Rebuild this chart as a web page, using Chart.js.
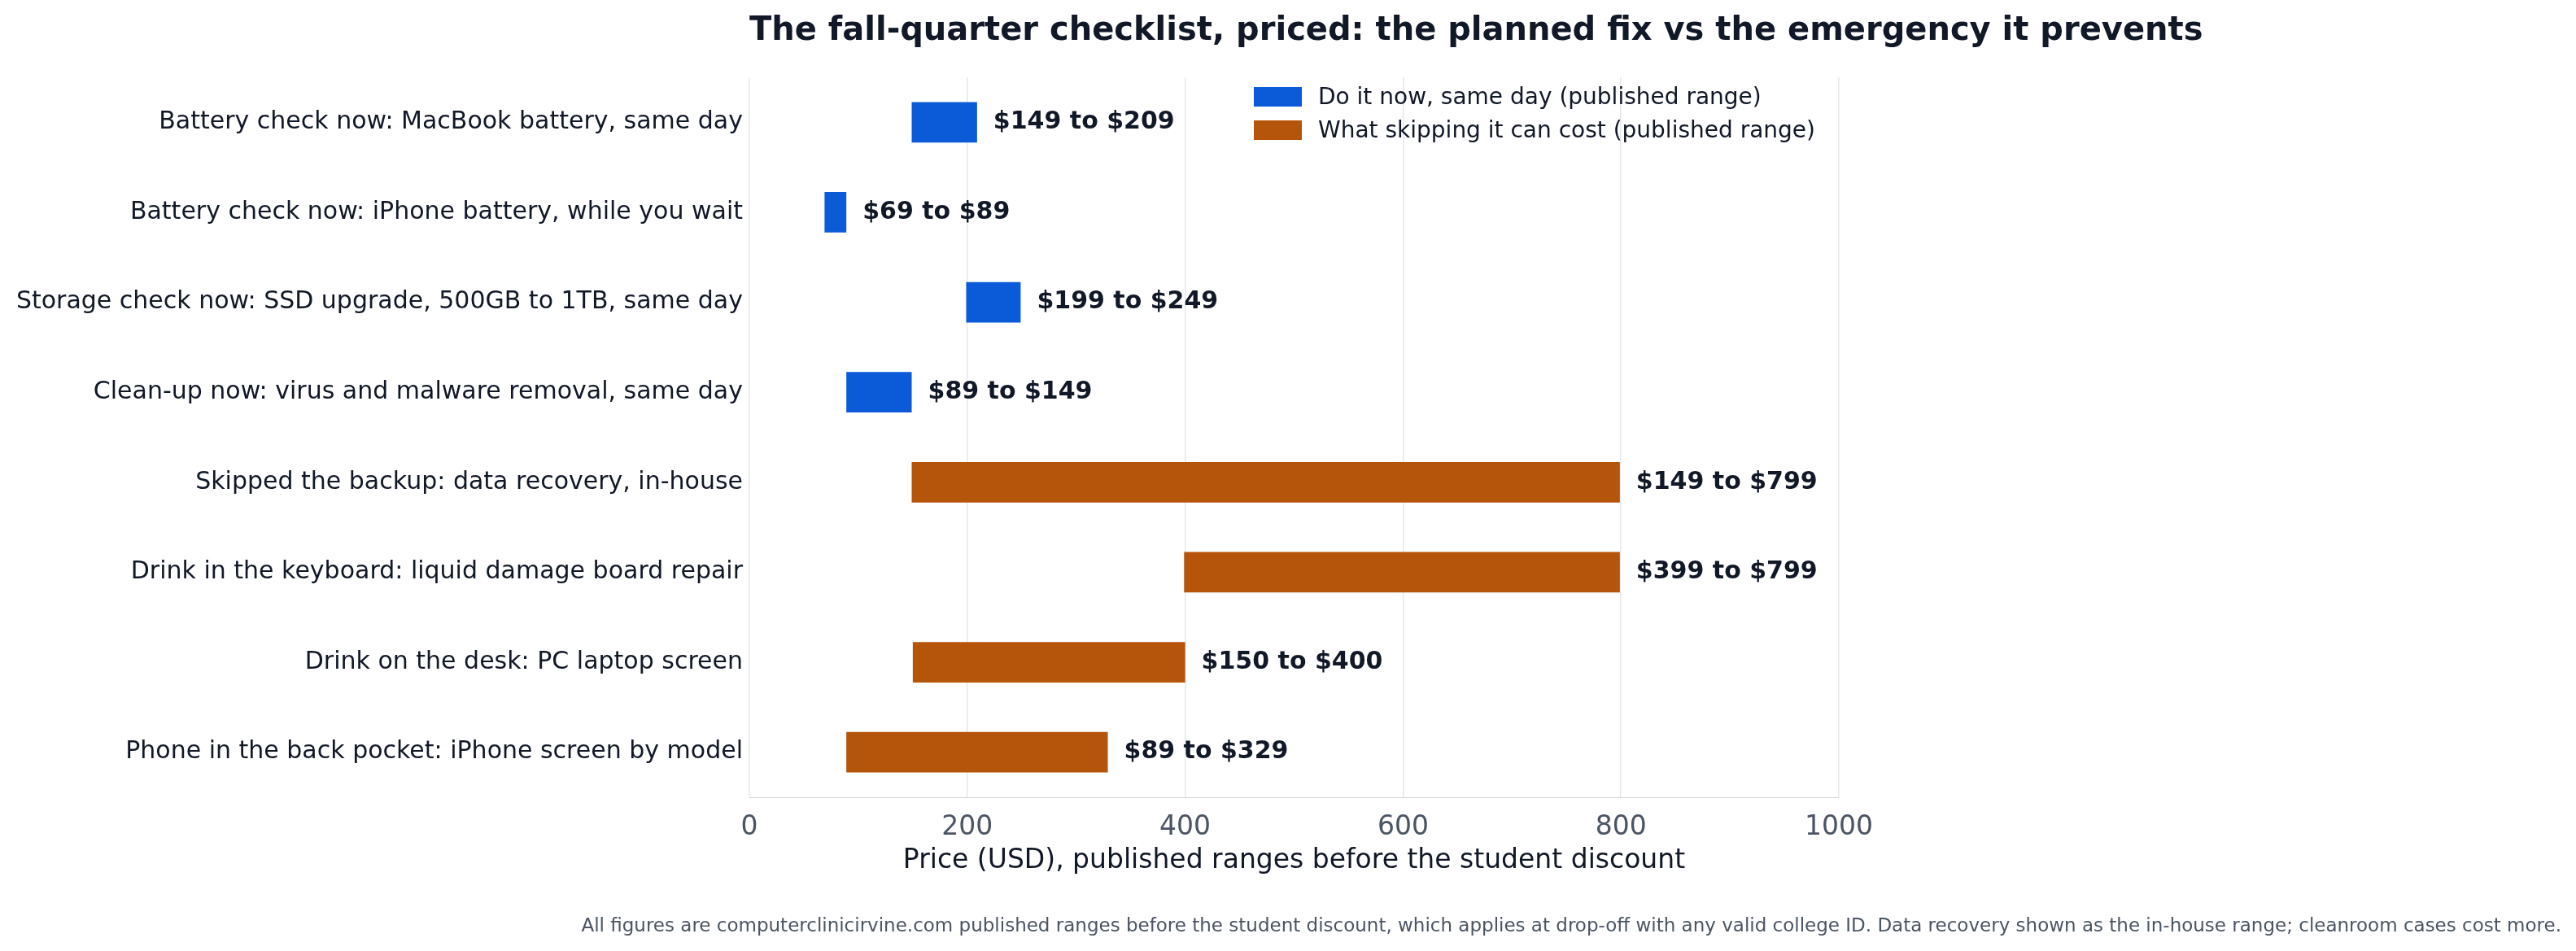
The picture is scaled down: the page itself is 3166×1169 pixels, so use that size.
<!DOCTYPE html>
<html><head><meta charset="utf-8">
<script src="https://cdn.jsdelivr.net/npm/chart.js@4"></script>
<style>
body{margin:0;background:#fff;font-family:"DejaVu Sans",sans-serif;}
#wrap{position:relative;width:3166px;height:1169px;}
#title{position:absolute;top:12px;left:921px;font-weight:bold;font-size:40px;color:#111827;white-space:nowrap;}
#foot{position:absolute;right:18px;top:1124px;font-size:23px;color:#4b5563;white-space:nowrap;}
#legend{position:absolute;left:1541px;top:98px;font-size:28px;color:#111827;}
#legend div{display:flex;align-items:center;height:41px;}
#legend span{display:inline-block;width:59px;height:24px;margin-right:20px;}
</style></head>
<body><div id="wrap">
<canvas id="c" width="3166" height="1169"></canvas>
<div id="title">The fall-quarter checklist, priced: the planned fix vs the emergency it prevents</div>
<div id="legend">
<div><span style="background:#0b5bd9"></span>Do it now, same day (published range)</div>
<div><span style="background:#b5540b"></span>What skipping it can cost (published range)</div>
</div>
<div id="foot">All figures are computerclinicirvine.com published ranges before the student discount, which applies at drop-off with any valid college ID. Data recovery shown as the in-house range; cleanroom cases cost more.</div>
</div>
<script>
const categories = [
  "Battery check now: MacBook battery, same day",
  "Battery check now: iPhone battery, while you wait",
  "Storage check now: SSD upgrade, 500GB to 1TB, same day",
  "Clean-up now: virus and malware removal, same day",
  "Skipped the backup: data recovery, in-house",
  "Drink in the keyboard: liquid damage board repair",
  "Drink on the desk: PC laptop screen",
  "Phone in the back pocket: iPhone screen by model"
];
const lowValues  = [149, 69, 199, 89, 149, 399, 150, 89];
const highValues = [209, 89, 249, 149, 799, 799, 400, 329];
const isEmergency = [false, false, false, false, true, true, true, true];
const xTicks = [0, 200, 400, 600, 800, 1000];

const nowData = categories.map((c, i) => isEmergency[i] ? null : [lowValues[i], highValues[i]]);
const skipData = categories.map((c, i) => isEmergency[i] ? [lowValues[i], highValues[i]] : null);

const labelPlugin = {
  id: 'rangeLabels',
  afterDatasetsDraw(chart) {
    const ctx = chart.ctx;
    ctx.save();
    ctx.font = 'bold 30px "DejaVu Sans"';
    ctx.fillStyle = '#111827';
    ctx.textBaseline = 'middle';
    chart.data.datasets.forEach((ds, di) => {
      chart.getDatasetMeta(di).data.forEach((bar, i) => {
        if (!ds.data[i]) return;
        ctx.fillText('$' + lowValues[i] + ' to $' + highValues[i], bar.x + 20, bar.y);
      });
    });
    ctx.restore();
  }
};

new Chart(document.getElementById('c'), {
  type: 'bar',
  data: {
    labels: categories,
    datasets: [
      { label: 'Do it now, same day (published range)', data: nowData, backgroundColor: '#0b5bd9', grouped: false },
      { label: 'What skipping it can cost (published range)', data: skipData, backgroundColor: '#b5540b', grouped: false }
    ]
  },
  options: {
    indexAxis: 'y',
    responsive: false,
    animation: false,
    barPercentage: 0.45,
    categoryPercentage: 1,
    layout: { padding: { top: 95, right: 906, bottom: 89, left: 0 } },
    plugins: { legend: { display: false }, tooltip: { enabled: false } },
    scales: {
      x: {
        min: 0, max: 1000,
        afterBuildTicks: s => { s.ticks = xTicks.map(v => ({ value: v })); },
        afterFit: s => { s.height = 100; },
        grid: { color: '#e5e7eb', lineWidth: 1.5, drawTicks: false },
        border: { color: '#d1d5db' },
        ticks: { color: '#4b5563', font: { size: 33, family: 'DejaVu Sans' }, padding: 18, callback: v => String(v) },
        title: { display: true, text: 'Price (USD), published ranges before the student discount', color: '#111827', font: { size: 33, family: 'DejaVu Sans' }, padding: 2 }
      },
      y: {
        afterFit: s => { s.width = 921; },
        grid: { display: false },
        border: { display: false },
        ticks: { color: '#111827', font: { size: 30, family: 'DejaVu Sans' }, padding: 0 }
      }
    }
  },
  plugins: [labelPlugin]
});
</script>
</body></html>
